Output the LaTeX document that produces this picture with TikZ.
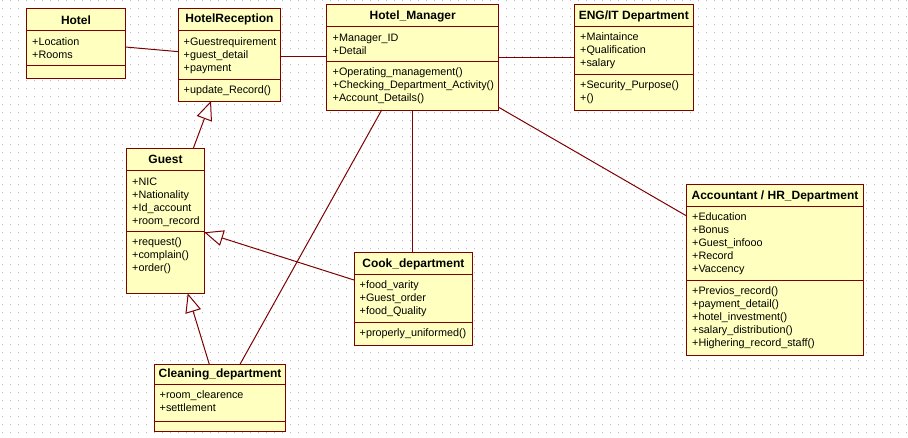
\documentclass[tikz,border=0pt]{standalone}
\usepackage{fontspec}
\setmainfont{Liberation Sans}
\usetikzlibrary{arrows.meta}
\definecolor{umlline}{HTML}{800000}
\definecolor{umlfill}{HTML}{FFFFC0}
\definecolor{griddot}{HTML}{BEBEBE}
\tikzset{
  cls/.style={draw=umlline, fill=umlfill, line width=1pt, inner sep=0pt, outer sep=0pt},
  clsline/.style={draw=umlline, line width=1pt},
  ctitle/.style={font=\fontsize{12}{14}\selectfont\bfseries, inner sep=0pt},
  mem/.style={font=\fontsize{10.8}{13}\selectfont, anchor=base west, inner sep=0pt},
  assoc/.style={draw=umlline, line width=1pt},
  gen/.style={draw=umlline, line width=1pt, -{Triangle[open, length=19pt, width=16pt, fill=white]}},
}
\newcommand\umlbox[8]{%
  \node[cls, minimum width={#4-#2}, minimum height={#5-#3}] (#1) at ({(#2+#4)/2},{(#3+#5)/2}) {};
  \draw[clsline] (#2,#6) -- (#4,#6);
  \draw[clsline] (#2,#7) -- (#4,#7);
  \node[ctitle] (#1-t) at ({(#2+#4)/2},{(#3+#6)/2+0.5}) {#8};
}
\newcommand\umlmembers[4]{%
  \foreach \t [count=\i] in {#4} \node[mem] (#1\i) at (#2,{#3+13*(\i-1)}) {\t};
}
\begin{document}
\begin{tikzpicture}[x=1pt,y=-1pt]
\useasboundingbox (0,0) rectangle (908,437);
\fill[white] (0,0) rectangle (908,437);
% grid of dots
\foreach \gy in {0,8,...,436}
  \draw[griddot, line width=1pt, dash pattern=on 1pt off 7pt] (2,\gy+0.5) -- (908,\gy+0.5);

% classes
\umlbox{hotel}{26.7}{8.3}{125.3}{78.3}{30.3}{65.7}{Hotel}
\umlmembers{hotel-a}{32}{45}{+Location,+Rooms}

\umlbox{recep}{178.3}{8.3}{280.7}{101}{30.3}{79}{HotelReception}
\umlmembers{recep-a}{183.5}{45}{+Guestrequirement,+guest\_detail,+payment}
\umlmembers{recep-o}{183.5}{93}{+update\_Record()}

\umlbox{mgr}{326.7}{4.3}{498.7}{110}{26.7}{61.7}{Hotel\_Manager}
\umlmembers{mgr-a}{332.5}{41}{+Manager\_ID,+Detail}
\umlmembers{mgr-o}{332.5}{75.5}{+Operating\_management(),+Checking\_Department\_Activity(),+Account\_Details()}

\umlbox{eng}{574.3}{4.3}{693.3}{110}{26.7}{74}{ENG/IT Department}
\umlmembers{eng-a}{580}{40.5}{+Maintaince,+Qualification,+salary}
\umlmembers{eng-o}{580}{88}{+Security\_Purpose(),+()}

\umlbox{guest}{126.7}{148.3}{204.3}{293.3}{170.3}{231}{Guest}
\umlmembers{guest-a}{132}{185}{+NIC,+Nationality,+Id\_account,+room\_record}
\umlmembers{guest-o}{132}{245}{+request(),+complain(),+order()}

\umlbox{cook}{354}{252.7}{472.7}{345.3}{274.3}{322}{Cook\_department}
\umlmembers{cook-a}{359.5}{288.5}{+food\_varity,+Guest\_order,+food\_Quality}
\umlmembers{cook-o}{359.5}{336}{+properly\_uniformed()}

\umlbox{clean}{154.3}{364.3}{285.7}{431}{384.3}{421}{Cleaning\_department}
\umlmembers{clean-a}{159.5}{398.5}{+room\_clearence,+settlement}

\umlbox{acct}{686.7}{184.3}{863.3}{355}{206.7}{280}{Accountant / HR\_Department}
\umlmembers{acct-a}{692}{220.5}{+Education,+Bonus,+Guest\_infooo,+Record,+Vaccency}
\umlmembers{acct-o}{692}{294}{+Previos\_record(),+payment\_detail(),+hotel\_investment(),+salary\_distribution(),+Highering\_record\_staff()}

% associations
\draw[assoc] ([yshift=-3.7pt]hotel.east) -- ([yshift=3pt]recep.west);
\draw[assoc] ([yshift=-2pt]recep.east) -- ([yshift=-2pt]recep.east -| mgr.west);
\draw[assoc] (mgr.east) -- (mgr.east -| eng.west);
\draw[assoc] ([yshift=2.7pt]mgr.south east) -- ([yshift=-31.7pt]acct.north west);
\draw[assoc] ([xshift=85.6pt]mgr.south west) -- ([xshift=85.6pt]mgr.south west |- cook.north);
\draw[assoc] ([xshift=55pt]mgr.south west) -- ([xshift=85.7pt]clean.north west);

% generalizations
\draw[gen] ([xshift=66.6pt]guest.north west) -- ([xshift=32.7pt]recep.south west);
\draw[gen] ([yshift=-27.3pt]cook.north west) -- ([yshift=-84pt]guest.north east);
\draw[gen] ([xshift=55pt]clean.north west) -- ([xshift=61pt]guest.south west);
\end{tikzpicture}
\end{document}
